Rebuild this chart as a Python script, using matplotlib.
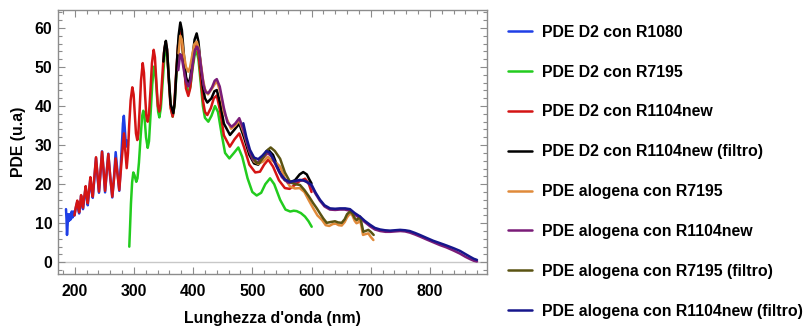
import matplotlib
matplotlib.use("Agg")
import matplotlib.pyplot as plt
from matplotlib.ticker import MultipleLocator

plt.rcParams['font.family'] = ['Liberation Sans', 'DejaVu Sans']
plt.rcParams['font.weight'] = 'bold'

# --- PDE D2 con R1080 ---
blue_x = [185.3, 186.2, 187, 188, 189, 190.5, 192, 193.5, 195, 196.5, 198, 199.5,
          202, 204.4, 206, 207.5, 209, 210.8, 212.5, 214, 216, 218.5, 220.5, 222,
          224, 226.5, 228.5, 230.5, 233, 236, 238.5, 241, 243.5, 246.2, 248.8, 251.3,
          254, 256.8, 260, 263.5, 266.5, 269.2, 272.3, 275.3, 279, 281.5, 283, 284.5,
          286.7, 288.5, 290]
blue_y = [13.6, 11.0, 7.0, 9.5, 12.3, 10.6, 12.3, 11.0, 13.0, 11.5, 13.0, 12.0,
          14.0, 15.5, 13.5, 12.5, 14.2, 17.0, 15.0, 13.6, 16.0, 19.3, 16.5, 14.6,
          17.5, 21.5, 18.5, 16.5, 21.0, 26.7, 22.0, 17.8, 22.8, 28.4, 23.3, 17.9,
          23.0, 27.8, 21.8, 16.6, 22.0, 28.2, 23.0, 18.3, 28.0, 35.5, 37.5, 34.5,
          29.6, 31.2, 30.0]

# --- PDE D2 con R7195 ---
green_x = [292.2, 293.5, 295, 297, 299, 301, 304, 306, 308.5, 311.5, 314, 315.9, 318,
           320.5, 323.3, 325.5, 328, 331, 334, 336.5, 339, 341, 343, 345.5, 348.5,
           351.5, 354, 356.5, 359.5, 362.5, 365.5, 368.5, 371.5, 375, 378, 381, 384.5,
           388, 391.9, 395.5, 399, 402.5, 406, 409, 412.5, 416.5, 420, 425.7, 431, 437,
           442, 448, 454, 461.2, 469, 476.4, 483, 492, 500, 507.4, 515, 522, 530, 537,
           547, 556, 564, 570, 575, 582, 589, 595, 600.3]
green_y = [4.0, 9.0, 15.0, 20.5, 23.0, 22.3, 20.6, 21.5, 25.5, 32.5, 37.5, 38.8, 37.0,
           32.0, 29.3, 31.0, 37.5, 45.5, 50.1, 48.5, 42.5, 38.5, 37.1, 39.5, 46.0,
           52.5, 55.0, 53.0, 46.0, 39.5, 37.3, 40.0, 47.5, 55.5, 58.7, 56.5, 50.5,
           45.5, 43.3, 45.0, 49.5, 53.0, 54.0, 52.0, 46.5, 40.0, 37.0, 36.0, 37.5, 40.0,
           38.5, 33.0, 28.0, 26.6, 28.0, 29.4, 27.0, 21.5, 18.0, 17.1, 17.8, 20.0, 21.5,
           20.0, 16.0, 13.5, 13.0, 13.2, 13.1, 12.6, 11.7, 10.5, 9.1]

# --- PDE D2 con R1104new ---
red_x = [199.5, 202, 204.4, 206, 207.5, 209, 210.8, 212.5, 214, 216, 218.5, 220.5, 222,
         224, 226.5, 228.5, 230.5, 233, 236, 238.5, 241, 243.5, 246.2, 248.8, 251.3,
         254, 256.8, 260, 263.5, 266.5, 269.2, 272.3, 275.3, 279, 283.3, 285.5, 287.8,
         290, 292, 294.5, 297.3, 299.5, 301.5, 303.5, 305.7, 307.5, 309.5, 312, 314.9,
         317, 319, 321, 323.3, 325.5, 328, 330.5, 333.4, 335.5, 338, 340.5, 342.9, 345,
         347.5, 350.5, 353.7, 356, 359, 362, 365.5, 368, 371, 374.5, 378, 381, 384.5,
         388, 391.9, 395, 398.5, 402, 406, 409, 412.5, 416.5, 420, 424, 430, 435, 440,
         446, 452, 462, 470, 478, 486, 495, 505, 513, 520, 527, 535, 545, 555, 563,
         570, 580, 589, 595, 600]
red_y = [12.0, 14.2, 15.8, 14.0, 12.8, 14.5, 17.2, 15.5, 14.0, 16.5, 19.5, 17.0, 15.1,
         18.0, 21.8, 19.0, 16.8, 21.5, 26.9, 22.5, 18.1, 23.0, 28.3, 23.5, 18.3,
         23.0, 27.7, 22.0, 16.8, 21.5, 26.6, 22.5, 18.5, 25.5, 33.0, 28.5, 24.1,
         28.0, 35.0, 41.5, 44.8, 43.0, 38.0, 33.0, 31.3, 33.0, 38.5, 46.5, 51.0,
         48.5, 42.5, 37.5, 36.0, 38.0, 44.0, 51.0, 54.4, 52.5, 46.0, 40.0, 38.6, 40.5,
         46.5, 53.5, 56.5, 54.5, 46.5, 39.5, 37.3, 40.0, 47.5, 55.5, 59.0, 57.0, 50.5,
         44.5, 42.6, 44.5, 49.5, 54.0, 55.6, 53.5, 48.0, 41.5, 38.5, 37.7, 39.5, 42.0,
         42.7, 38.5, 32.5, 29.6, 31.5, 33.0, 29.5, 25.0, 23.0, 23.2, 25.0, 26.3, 24.5,
         21.0, 19.0, 18.8, 19.6, 20.8, 21.4, 20.3, 18.0]

# --- PDE D2 con R1104new (filtro) ---
black_x = [349.8, 351.8, 354, 356, 359, 362, 366.6, 369, 372, 375.5, 378.4, 381, 384.5,
           388, 392, 395.5, 399, 402.5, 406, 409, 412.5, 416.5, 420, 424, 431, 436, 440,
           446, 452, 462.3, 470, 478, 486, 495, 503, 510, 518, 527, 535, 545, 555, 565,
           572, 580, 586, 592, 597, 600]
black_y = [51.4, 55.0, 56.7, 54.5, 47.0, 40.5, 38.2, 41.0, 49.5, 58.0, 61.4, 59.5, 53.0,
           47.5, 45.4, 47.5, 52.5, 57.0, 58.6, 56.5, 51.0, 45.0, 42.0, 40.9, 42.0, 43.8,
           44.1, 40.5, 35.5, 32.6, 34.0, 35.5, 32.0, 27.5, 25.3, 25.0, 26.8, 28.8, 27.5,
           23.5, 21.0, 20.6, 21.0, 22.5, 23.1, 22.5, 21.0, 20.2]

# --- PDE alogena con R7195 ---
orange_x = [375.5, 378.4, 381, 384, 388, 391.9, 395, 398.5, 402, 406, 409, 412.5, 416.5,
            420, 425, 432, 440, 446, 452, 464, 471, 478, 486, 495, 503, 510, 518, 526,
            534, 540, 547, 555, 563.7, 572, 580, 588, 595, 603, 610, 618, 624, 630, 636,
            641, 646, 651, 656, 660, 665, 669, 673, 676, 679, 682, 684, 687, 691, 696,
            700, 704.5]
orange_y = [53.5, 58.0, 57.0, 53.5, 50.0, 48.8, 50.0, 53.0, 55.8, 56.5, 55.0, 51.5,
            47.0, 44.3, 43.0, 44.5, 46.5, 43.5, 38.5, 34.2, 35.0, 36.3, 33.0, 28.5, 25.8,
            25.2, 25.8, 27.0, 26.0, 25.5, 24.5, 21.5, 19.4, 18.9, 19.0, 18.0, 16.0, 13.8,
            12.0, 10.8, 9.5, 9.3, 9.8, 9.9, 9.5, 9.4, 10.3, 11.5, 12.5, 12.0, 10.6, 10.0,
            10.2, 10.8, 9.5, 7.0, 7.2, 7.4, 6.5, 5.7]

# --- PDE alogena con R1104new ---
purple_x = [375, 378, 380.5, 383.5, 387.5, 392, 395.5, 399, 403, 407, 410, 413.5, 417.5,
            421, 425.7, 432, 436.5, 440, 445, 452, 458, 465, 471, 478, 485, 493, 500,
            508, 516, 526, 533, 541, 550, 560, 568, 576, 585, 592, 600, 607, 614, 622,
            631, 640, 648, 656, 665, 673, 682, 690, 699, 707, 716, 725, 733, 741, 750,
            758, 766, 775, 783, 795, 806, 817, 828, 840, 851, 860, 868, 874, 879.5]
purple_y = [49.2, 53.3, 52.8, 50.0, 46.5, 45.0, 46.5, 50.5, 54.3, 55.2, 54.0, 50.0,
            45.5, 43.6, 43.3, 44.8, 46.5, 46.9, 45.0, 39.5, 35.8, 34.7, 35.5, 36.9, 34.0,
            29.5, 26.5, 25.5, 26.5, 28.0, 27.0, 24.5, 21.8, 20.4, 20.3, 20.8, 21.0, 20.6,
            19.4, 17.5, 15.8, 14.3, 13.5, 13.4, 13.5, 13.5, 13.2, 12.2, 11.3, 10.3, 9.2,
            8.4, 8.0, 7.8, 7.8, 7.9, 8.0, 7.9, 7.6, 7.1, 6.6, 5.8, 5.1, 4.4, 3.8, 3.0, 2.2,
            1.4, 0.8, 0.4, 0.2]

# --- PDE alogena con R7195 (filtro) ---
olive_x = [500, 507, 512, 518, 524, 531, 538, 547, 555, 563.7, 572, 580.5, 588, 595,
           603, 609, 614.4, 620, 625.7, 632, 639.7, 645, 651, 656, 660, 665, 669, 673,
           676.4, 679, 682, 684.5, 687.5, 691, 696, 700, 705]
olive_y = [27.3, 25.5, 25.4, 26.8, 28.5, 29.4, 28.5, 26.5, 23.0, 20.6, 20.0, 19.8,
           18.5, 17.0, 15.1, 13.8, 12.5, 11.2, 10.1, 10.3, 10.5, 10.2, 10.1, 11.0, 12.3,
           13.0, 12.5, 11.3, 10.8, 11.2, 11.7, 10.0, 7.8, 8.0, 8.3, 7.8, 7.0]

# --- PDE alogena con R1104new (filtro) ---
navy_x = [484.8, 490, 496, 503, 510, 517, 524, 530, 537, 546, 555, 563, 571, 580.5,
          588, 594, 600.3, 607, 614.4, 622, 631.3, 640, 648, 657, 665, 673, 682, 690,
          699, 707, 715.7, 724, 732.6, 741, 749.5, 758, 766, 775, 783, 795, 805.7, 817,
          828, 840, 851, 860, 868, 874, 879.5]
navy_y = [35.6, 32.0, 28.8, 26.8, 26.4, 27.3, 28.5, 28.0, 26.0, 23.0, 21.2, 20.6,
          20.8, 21.1, 20.9, 20.4, 19.8, 17.8, 16.0, 14.6, 13.8, 13.7, 13.8, 13.8, 13.6,
          12.6, 11.7, 10.6, 9.6, 8.8, 8.4, 8.2, 8.1, 8.2, 8.3, 8.2, 8.0, 7.5, 7.0, 6.2,
          5.5, 4.9, 4.3, 3.6, 2.9, 2.1, 1.4, 0.9, 0.6]

series = [
    ("PDE D2 con R1080", blue_x, blue_y, "#1f3fe6"),
    ("PDE D2 con R7195", green_x, green_y, "#22cc1e"),
    ("PDE D2 con R1104new", red_x, red_y, "#d41414"),
    ("PDE D2 con R1104new (filtro)", black_x, black_y, "#000000"),
    ("PDE alogena con R7195", orange_x, orange_y, "#e08a3a"),
    ("PDE alogena con R1104new", purple_x, purple_y, "#7a1c78"),
    ("PDE alogena con R7195 (filtro)", olive_x, olive_y, "#5a5312"),
    ("PDE alogena con R1104new (filtro)", navy_x, navy_y, "#16168c"),
]

x_limits = (171.3, 896.0)
y_limits = (-3.0, 64.6)
fs = 11.4

fig = plt.figure(figsize=(8.06, 3.29), dpi=100)
ax = fig.add_axes([0.0716, 0.1672, 0.5323, 0.8024])

ax.axhline(0, color="#c8c8c8", lw=1.0, zorder=1)

for label, xs, ys, color in series:
    ax.plot(xs, ys, color=color, lw=1.8, label=label,
            solid_joinstyle="round", solid_capstyle="round", zorder=2)

ax.set_xlim(*x_limits)
ax.set_ylim(*y_limits)

frame_color = "#8c8c8c"
for sp in ax.spines.values():
    sp.set_color(frame_color)
    sp.set_linewidth(1.0)

ax.xaxis.set_major_locator(MultipleLocator(100))
ax.xaxis.set_minor_locator(MultipleLocator(20))
ax.yaxis.set_major_locator(MultipleLocator(10))
ax.yaxis.set_minor_locator(MultipleLocator(2))
ax.tick_params(which="both", direction="in", top=True, right=True,
               color=frame_color, width=0.8)
ax.tick_params(which="major", length=5)
ax.tick_params(which="minor", length=2.8)
ax.tick_params(axis="x", which="major", labelsize=fs, pad=7)
ax.tick_params(axis="y", which="major", labelsize=fs, pad=4)
for lbl in ax.get_xticklabels() + ax.get_yticklabels():
    lbl.set_fontweight("bold")

ax.set_xlabel("Lunghezza d'onda (nm)", fontsize=fs, fontweight="bold", labelpad=9)
ax.set_ylabel("PDE (u.a)", fontsize=fs, fontweight="bold", labelpad=6)

fig.legend(loc="upper left", bbox_to_anchor=(0.630, 0.925), frameon=False,
           prop={"size": fs, "weight": "bold"}, handlelength=1.52,
           handletextpad=0.63, labelspacing=1.57, borderpad=0, borderaxespad=0)

fig.savefig("out.png", dpi=100)
